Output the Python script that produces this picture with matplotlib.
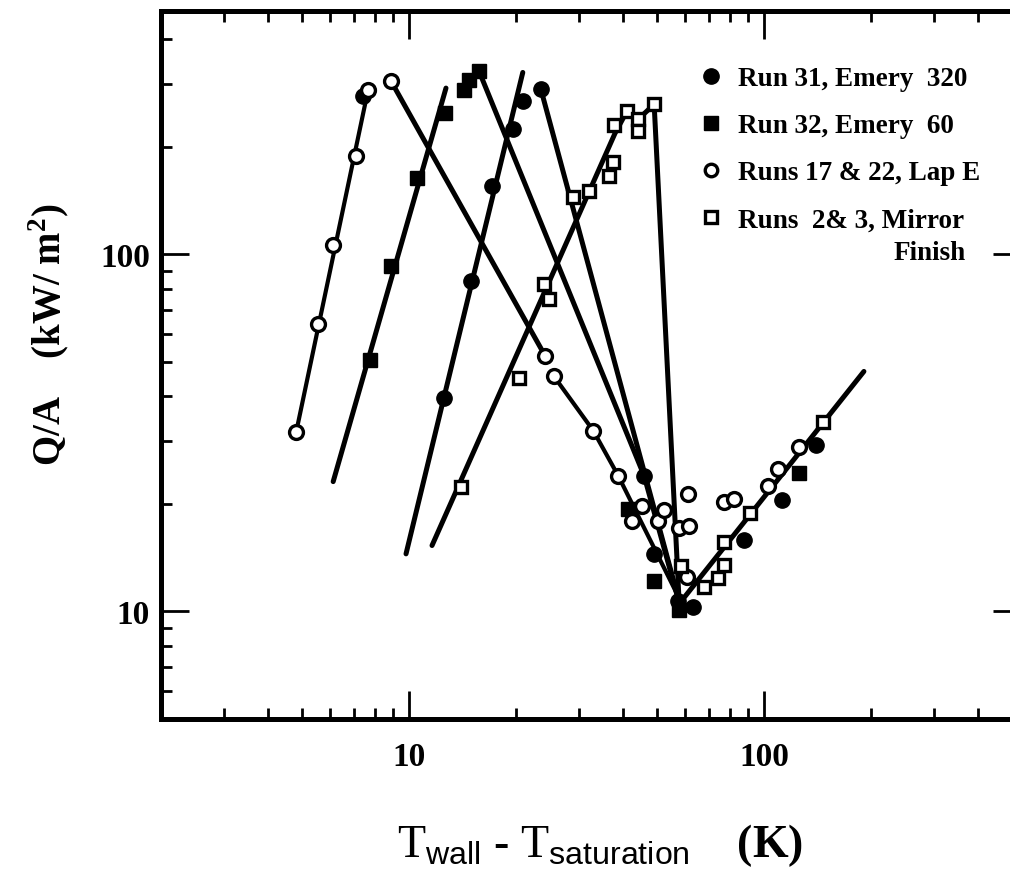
import matplotlib
matplotlib.use('Agg')
from matplotlib import pyplot as plt
from matplotlib.ticker import LogLocator, NullFormatter, FixedLocator, FixedFormatter
from matplotlib.lines import Line2D

plt.rcParams['font.family'] = ['Liberation Serif', 'DejaVu Serif']
plt.rcParams['mathtext.fontset'] = 'custom'
plt.rcParams['mathtext.rm'] = 'Liberation Sans'
plt.rcParams['mathtext.bf'] = 'Liberation Serif:bold'

# Run 31, Emery 320 (filled circles)
run31_T = [7.42, 12.55, 14.95, 17.1, 19.6, 20.95, 23.5, 46.0, 49.0, 57.2, 63.1, 87.8, 112.4, 140.0]
run31_q = [277, 39.7, 84.0, 155, 224, 268, 290, 24.0, 14.5, 10.7, 10.3, 15.9, 20.5, 29.2]
run31_nb_T = [9.8, 20.9]
run31_nb_q = [14.5, 323]
run31_tb_T = [23.5, 57.6]
run31_tb_q = [290, 10.7]

# Run 32, Emery 60 (filled squares)
run32_T = [7.76, 8.9, 10.5, 12.6, 14.3, 14.7, 15.75, 41.4, 49.0, 57.6, 125.0]
run32_q = [50.5, 92.5, 164, 248, 288, 307, 325, 19.4, 12.2, 10.1, 24.4]
run32_nb_T = [6.11, 12.7]
run32_nb_q = [23.1, 292]
run32_tb_T = [15.75, 45.9, 57.6]
run32_tb_q = [325, 24.0, 10.6]

# Runs 17 & 22, Lap E (open circles)
lap_T = [4.81, 5.54, 6.11, 7.09, 7.66, 8.9, 24.2, 25.6, 33.0, 38.8, 42.5, 45.3, 50.3,
         52.3, 57.6, 61.5, 61.1, 60.7, 77.1, 82.3, 102.6, 109.5, 125.5]
lap_q = [31.9, 63.7, 106, 189, 288, 305, 51.8, 45.5, 32.1, 24.0, 17.9, 19.8, 17.9,
         19.2, 17.1, 17.3, 21.3, 12.5, 20.2, 20.7, 22.5, 25.0, 28.8]
lap_nb_T = [4.81, 7.66]
lap_nb_q = [31.9, 288]
lap_tb1_T = [8.9, 24.2]
lap_tb1_q = [305, 51.8]
lap_tb2_T = [25.6, 33.0, 38.8, 57.6]
lap_tb2_q = [45.5, 32.1, 24.0, 10.9]

# Runs 2 & 3, mirror finish (open squares)
mir_T = [14.0, 20.4, 24.0, 24.8, 29.0, 32.1, 36.6, 37.6, 37.8, 41.1, 44.2, 44.2, 49.0,
         58.4, 67.8, 74.2, 77.1, 77.1, 91.3, 146.6]
mir_q = [22.3, 45.0, 82.4, 74.8, 145, 150, 166, 181, 230, 252, 239, 221, 263,
         13.4, 11.7, 12.4, 13.5, 15.7, 18.9, 34.0]
mir_nb_T = [11.6, 38.0, 41.1, 44.2, 49.0]
mir_nb_q = [15.3, 218, 252, 239, 263]
mir_tb_T = [49.0, 57.6]
mir_tb_q = [263, 10.7]

# film boiling branch shared by all runs
film_T = [57.6, 191]
film_q = [10.5, 47]

fig = plt.figure(figsize=(10.1, 8.7), dpi=100)
ax = fig.add_axes([161/1010, 1-720/870, 860/1010, 708/870])
ax.set_xscale('log')
ax.set_yscale('log')
ax.set_xlim(2, 2 * 10 ** (860 / 355.0))
ax.set_ylim(5, 480)

lw = 3.6
for T, q in [(run31_nb_T, run31_nb_q), (run31_tb_T, run31_tb_q),
             (run32_nb_T, run32_nb_q), (run32_tb_T, run32_tb_q),
             (lap_tb1_T, lap_tb1_q),
             (mir_nb_T, mir_nb_q), (mir_tb_T, mir_tb_q), (film_T, film_q)]:
    ax.plot(T, q, color='black', lw=lw, solid_capstyle='round', zorder=2)
for T, q in [(lap_nb_T, lap_nb_q), (lap_tb2_T, lap_tb2_q)]:
    ax.plot(T, q, color='black', lw=3.0, solid_capstyle='round', zorder=2)

ax.plot(run31_T, run31_q, 'o', ms=11, mfc='black', mec='black', ls='none', zorder=3)
ax.plot(run32_T, run32_q, 's', ms=10, mfc='black', mec='black', ls='none', zorder=3)
ax.plot(lap_T, lap_q, 'o', ms=10, mfc='white', mec='black', mew=2.4, ls='none', zorder=4)
ax.plot(mir_T, mir_q, 's', ms=9, mfc='white', mec='black', mew=2.4, ls='none', zorder=4)

for s in ax.spines.values():
    s.set_linewidth(3.6)

ax.tick_params(which='both', direction='in', top=True, right=True, width=2.0)
ax.tick_params(which='major', length=20)
ax.tick_params(which='minor', length=8)
ax.tick_params(axis='x', which='major', pad=16)
ax.tick_params(axis='y', which='major', pad=8)

ax.xaxis.set_major_locator(FixedLocator([10, 100]))
ax.xaxis.set_major_formatter(FixedFormatter(['10', '100']))
ax.xaxis.set_minor_locator(LogLocator(base=10, subs=range(2, 10), numticks=20))
ax.xaxis.set_minor_formatter(NullFormatter())
ax.yaxis.set_major_locator(FixedLocator([10, 100]))
ax.yaxis.set_major_formatter(FixedFormatter(['10', '100']))
ax.yaxis.set_minor_locator(LogLocator(base=10, subs=range(2, 10), numticks=20))
ax.yaxis.set_minor_formatter(NullFormatter())
for lab in ax.get_xticklabels() + ax.get_yticklabels():
    lab.set_fontsize(24)
    lab.set_fontweight('bold')

# axis titles, placed in axes fractions of the 860 px x 708 px plotting box
ax.set_xlabel(r'T$_{\rm wall}$ - T$_{\rm saturation}$    $\mathbf{(K)}$', fontsize=33)
ax.xaxis.set_label_coords((600 - 161) / 860, -(846 - 720) / 708)
ax.xaxis.label.set_verticalalignment('center')
ax.set_ylabel(r'Q/A    (kW/ m$^{\mathbf{2}}$)', fontsize=28, fontweight='bold')
ax.yaxis.set_label_coords(-(161 - 49) / 860, (720 - 335) / 708)
ax.yaxis.label.set_verticalalignment('center')

handles = [
    Line2D([], [], marker='o', ls='none', ms=11, mfc='black', mec='black'),
    Line2D([], [], marker='s', ls='none', ms=10, mfc='black', mec='black'),
    Line2D([], [], marker='o', ls='none', ms=9, mfc='white', mec='black', mew=2.4),
    Line2D([], [], marker='s', ls='none', ms=9, mfc='white', mec='black', mew=2.4),
]
labels = ['Run 31, Emery  320', 'Run 32, Emery  60', 'Runs 17 & 22, Lap E',
          'Runs  2& 3, Mirror']
leg_font = {'family': ['Liberation Serif'], 'weight': 'bold', 'size': 19.5}
leg = ax.legend(handles, labels, loc='upper left',
                bbox_to_anchor=((700 - 161) / 860, (720 - 67) / 708),
                frameon=False, handlelength=0.8, handletextpad=0.6,
                labelspacing=0.82, borderaxespad=0, borderpad=0, prop=leg_font)
ax.text((966 - 161) / 860, (720 - 254) / 708, 'Finish', transform=ax.transAxes,
        ha='right', va='center', fontsize=19.5, fontweight='bold',
        family=['Liberation Serif'])

fig.savefig('out.png', dpi=100)
